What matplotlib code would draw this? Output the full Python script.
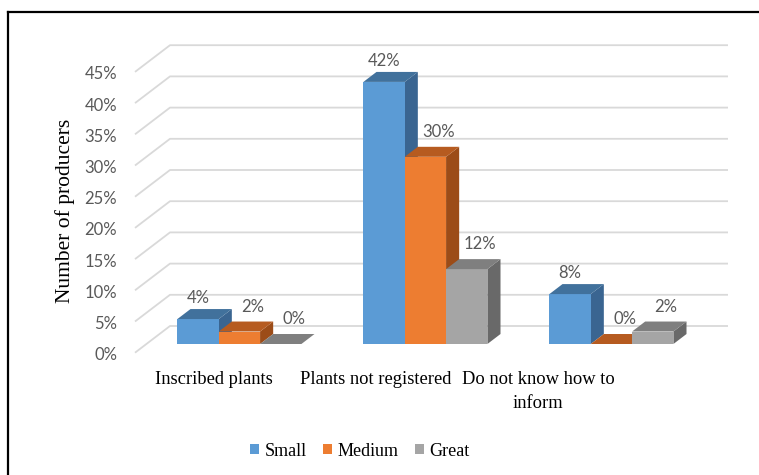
import matplotlib.pyplot as plt
from matplotlib.patches import Polygon, Patch
from matplotlib.lines import Line2D

categories = ["Inscribed plants", "Plants not registered", "Do not know how to\ninform"]
series = ["Small", "Medium", "Great"]
small = [4, 42, 8]
medium = [2, 30, 0]
great = [0, 12, 2]
yticks = [0, 5, 10, 15, 20, 25, 30, 35, 40, 45]

front_col = ["#5B9BD5", "#ED7D31", "#A5A5A5"]
top_col = ["#41719C", "#B65B20", "#7F7F7F"]
side_col = ["#3A6591", "#9C4C18", "#696969"]

W, H = 759, 475
# pixel layout of the fake 3D frame
PX_CAT = 186.0     # px per category
PX_PCT = 6.24      # px per percent
X_ORIGIN = 228.0   # px of category 0 centre at front plane
Y_ORIGIN = 352.7   # px of 0% at front plane
DX = 35.0 / PX_CAT     # wall depth in category units
DY = 26.7 / PX_PCT     # wall depth in percent units
D0, D1 = 0.326, 0.70   # bar depth span
BW = 1 / 4.5           # bar width (gap 150%)


def proj(x, y, d):
    return (x + d * DX, y + d * DY)


fig = plt.figure(figsize=(W / 100, H / 100), dpi=100)
ax = fig.add_axes([0, 0, 1, 1])
ax.set_xlim(-X_ORIGIN / PX_CAT, (W - X_ORIGIN) / PX_CAT)
ax.set_ylim((Y_ORIGIN - H) / PX_PCT, Y_ORIGIN / PX_PCT)
ax.axis("off")

grid_kw = dict(color="#D9D9D9", lw=1.3, zorder=1, solid_capstyle="butt")
for t in yticks:
    x0, y0 = proj(-0.5, t, 0)
    x1, y1 = proj(-0.5, t, 1)
    x2, y2 = proj(2.5, t, 1)
    ax.plot([x0, x1, x2], [y0, y1, y2], **grid_kw)
    ax.text(x0 - 18 / PX_CAT, y0 - 2.5 / PX_PCT, f"{t}%", ha="right", va="center",
            fontsize=12, color="#595959", family="Lato")

values = [small, medium, great]
for ci in range(len(categories)):
    for si in range(len(series)):
        v = values[si][ci]
        xl = ci - 1.5 * BW + si * BW
        xr = xl + BW
        front = [proj(xl, 0, D0), proj(xr, 0, D0), proj(xr, v, D0), proj(xl, v, D0)]
        top = [proj(xl, v, D0), proj(xr, v, D0), proj(xr, v, D1), proj(xl, v, D1)]
        side = [proj(xr, 0, D0), proj(xr, v, D0), proj(xr, v, D1), proj(xr, 0, D1)]
        z = 2 + ci * 3 + si
        if v > 0:
            ax.add_patch(Polygon(side, closed=True, fc=side_col[si], ec="none", zorder=z))
            ax.add_patch(Polygon(front, closed=True, fc=front_col[si], ec="none", zorder=z))
        ax.add_patch(Polygon(top, closed=True, fc=top_col[si], ec="none", zorder=z))
        # data label
        lx, ly = proj((xl + xr) / 2, v, D1)
        if si == 0:
            dx_px, dy_px = -13, 11
        else:
            dx_px, dy_px = 0, 15
        ax.text(lx + dx_px / PX_CAT, ly + dy_px / PX_PCT, f"{v}%", ha="center", va="center",
                fontsize=12, color="#595959", family="Lato", zorder=20)

label_x_px = [214, 376, 538]
for lab, px in zip(categories, label_x_px):
    fig.text(px / W, 1 - 371 / H, lab, ha="center", va="top", fontsize=13.3,
             family="Liberation Serif", color="black", linespacing=1.5)

fig.text(65 / W, 1 - 211 / H, "Number of producers", rotation=90, ha="center", va="center",
         fontsize=15.5, family="Liberation Serif", color="black")

handles = [Patch(fc=c, ec="none") for c in front_col]
leg = fig.legend(handles, series, loc="center", bbox_to_anchor=(360 / W, 1 - 451 / H),
                 ncol=3, frameon=False, handlelength=0.5, handleheight=0.5,
                 handletextpad=0.3, columnspacing=0.9,
                 prop={"family": "Liberation Serif", "size": 13})

# cropped outer frame (top and left edges)
fig.add_artist(Line2D([8 / W, 1], [1 - 12 / H, 1 - 12 / H], color="black", lw=1.6,
                      transform=fig.transFigure))
fig.add_artist(Line2D([8 / W, 8 / W], [0, 1 - 12 / H], color="black", lw=1.6,
                      transform=fig.transFigure))

fig.savefig("out.png", dpi=100)
